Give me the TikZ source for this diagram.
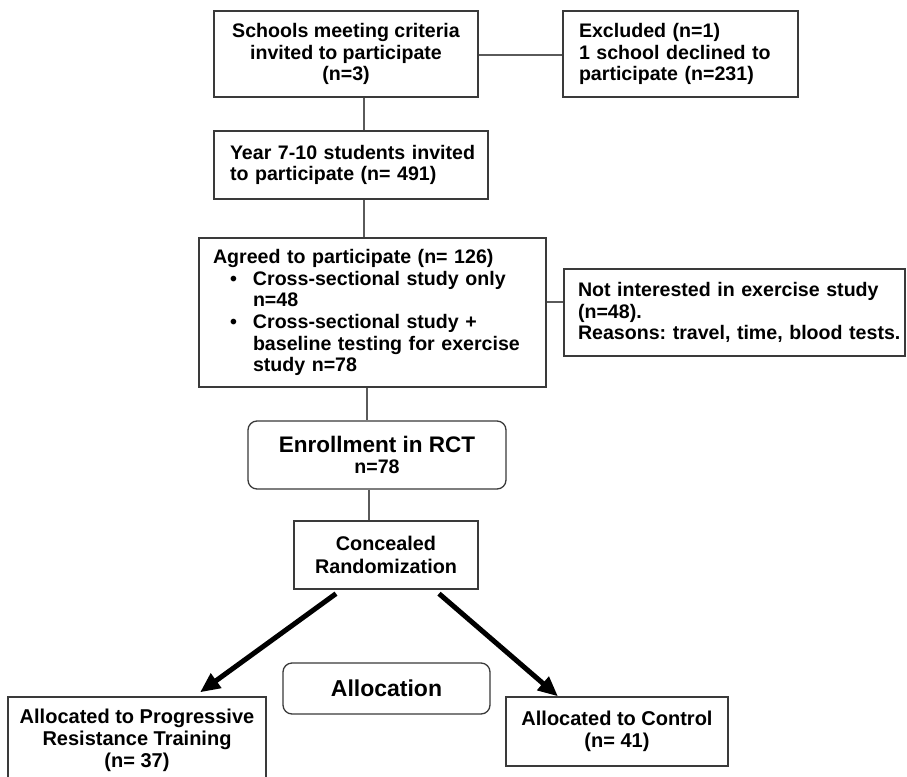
\documentclass[tikz,border=0pt]{standalone}
\usepackage{fontspec}
\setmainfont{Liberation Sans}
\usetikzlibrary{arrows.meta,positioning,calc}
\frenchspacing
\definecolor{boxline}{HTML}{3A3A3A}
\definecolor{linkline}{HTML}{5A5A5A}
\tikzset{
  box/.style={draw=boxline, line width=1.3pt, inner sep=0pt, font=\bfseries\fontsize{19.6}{21.7}\selectfont},
  cbox/.style={box, align=center},
  lbox/.style={box, align=left},
  rbox/.style={box, rounded corners=9pt, align=center},
  link/.style={draw=linkline, line width=1.2pt},
  bigarrow/.style={line width=5pt, -{Triangle[length=20pt,width=17pt]}},
}
\begin{document}
\begin{tikzpicture}[x=1pt,y=-1pt]
\useasboundingbox (0,0) rectangle (907,776);
\fill[white] (0,0) rectangle (907,776);

\node[cbox, minimum width=264pt, minimum height=86pt] (schools) at (346,54)
  {Schools meeting criteria\\invited to participate\\(n=3)};
\node[lbox, text width=203pt, inner xsep=16pt, minimum height=86pt] (excl) at (680.5,54)
  {\mbox{Excluded (n=1)}\\\mbox{1 school declined to}\\\mbox{participate (n=231)}};
\node[lbox, text width=242pt, inner xsep=16pt, minimum height=68pt] (year) at (351,165)
  {\mbox{Year 7-10 students invited}\\\mbox{to participate (n= 491)}};
\node[lbox, text width=319pt, inner xsep=14pt, minimum height=149pt] (agreed) at (372.5,312.5)
  {\mbox{Agreed to participate (n= 126)}\\
   \mbox{\hspace*{17pt}\rlap{\textbullet}\hspace*{23pt}Cross-sectional study only}\\
   \mbox{\hspace*{40pt}n=48}\\
   \mbox{\hspace*{17pt}\rlap{\textbullet}\hspace*{23pt}Cross-sectional study +}\\
   \mbox{\hspace*{40pt}baseline testing for exercise}\\
   \mbox{\hspace*{40pt}study n=78}};
\node[lbox, text width=313pt, inner xsep=14pt, minimum height=87pt] (notint) at (734.5,312.5)
  {\mbox{Not interested in exercise study}\\\mbox{(n=48).}\\\mbox{Reasons: travel, time, blood tests.}};
\node[rbox, minimum width=258pt, minimum height=68pt] (enroll) at (377,455)
  {{\fontsize{22.5}{25}\selectfont Enrollment in RCT}\\n=78};
\node[cbox, minimum width=184pt, minimum height=68pt, font=\bfseries\fontsize{19.8}{23}\selectfont] (conc) at (386,555)
  {Concealed\\Randomization};
\node[rbox, minimum width=207pt, minimum height=51pt, font=\bfseries\fontsize{23}{25}\selectfont] (alloc) at (386.5,688.5)
  {Allocation};
\node[cbox, minimum width=258pt, minimum height=86pt, font=\bfseries\fontsize{20}{22}\selectfont] (prt) at (137,740)
  {Allocated to Progressive\\Resistance Training\\(n= 37)};
\node[cbox, minimum width=222pt, minimum height=69pt, font=\bfseries\fontsize{20}{22}\selectfont] (ctrl) at (617,731.5)
  {Allocated to Control\\(n= 41)};

\coordinate (v1) at (364,0);
\coordinate (v2) at (367,0);
\coordinate (v3) at (369,0);
\coordinate (h1) at (0,55);
\coordinate (h2) at (0,302);

\draw[link] (schools.east |- h1) -- (excl.west |- h1);
\draw[link] (v1 |- schools.south) -- (v1 |- year.north);
\draw[link] (v1 |- year.south) -- (v1 |- agreed.north);
\draw[link] (agreed.east |- h2) -- (notint.west |- h2);
\draw[link] (v2 |- agreed.south) -- (v2 |- enroll.north);
\draw[link] (v3 |- enroll.south) -- (v3 |- conc.north);

\draw[bigarrow] ([shift={(-50,4)}]conc.south) -- ([shift={(63,-4)}]prt.north);
\draw[bigarrow] ([shift={(53,4)}]conc.south) -- ([shift={(-59,0)}]ctrl.north);
\end{tikzpicture}
\end{document}
